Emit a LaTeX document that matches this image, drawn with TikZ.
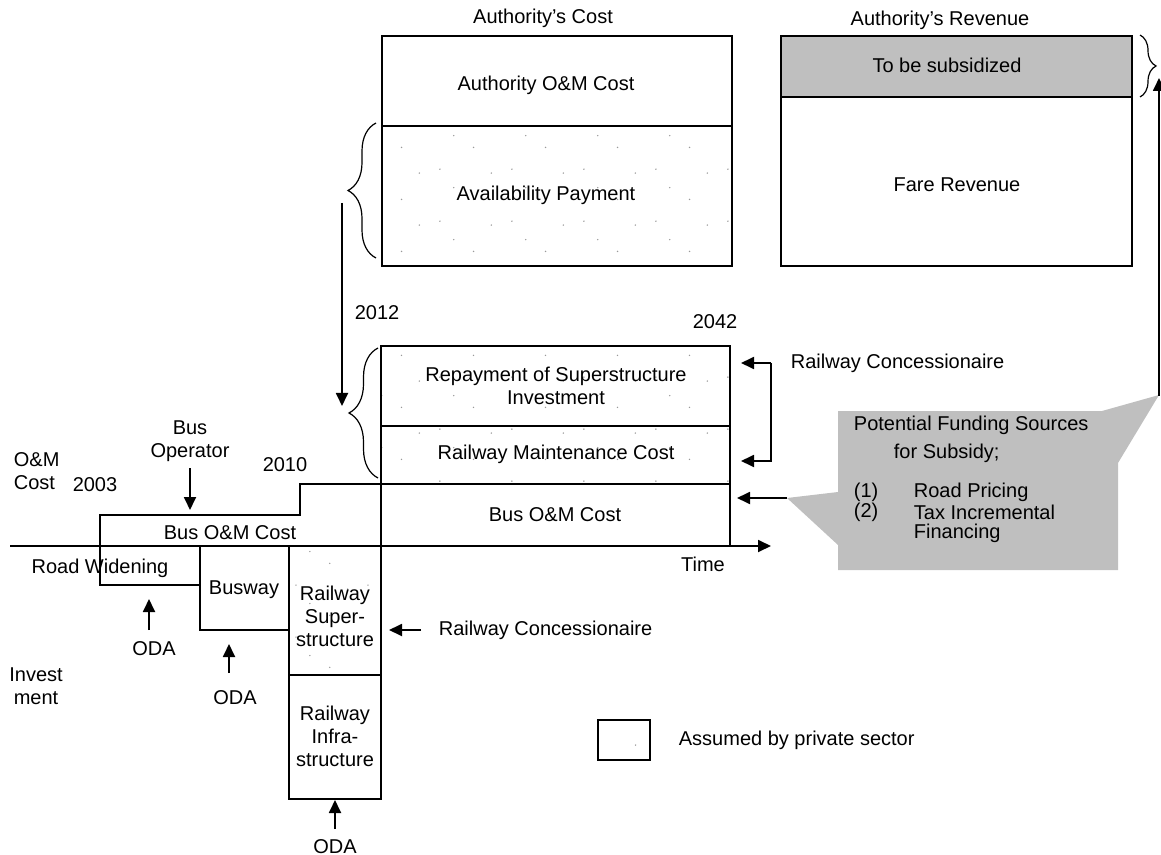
\documentclass[tikz,border=0pt]{standalone}
\usepackage{fontspec}
\setmainfont{Liberation Sans}
\usetikzlibrary{arrows.meta,decorations.pathreplacing,patterns}

% light, irregular dots marking the cost items carried by the private sector
\pgfdeclarepatternformonly{sparse dots}{\pgfqpoint{0pt}{0pt}}{\pgfqpoint{36pt}{26pt}}{\pgfqpoint{36pt}{26pt}}{%
  \pgfpathcircle{\pgfqpoint{4pt}{5pt}}{0.4pt}%
  \pgfpathcircle{\pgfqpoint{21pt}{16pt}}{0.4pt}%
  \pgfpathcircle{\pgfqpoint{30pt}{3pt}}{0.4pt}%
  \pgfpathcircle{\pgfqpoint{11pt}{22pt}}{0.4pt}%
  \pgfusepath{fill}}

\begin{document}
\begin{tikzpicture}[x=0.5pt,y=-0.5pt,
  font=\fontsize{10}{11.5}\selectfont,
  line width=0.9pt,
  lbl/.style={inner sep=0pt, align=center},
  lft/.style={inner sep=0pt, anchor=west, align=left},
  arr/.style={-{Triangle[length=6.5pt,width=6pt]}},
  priv/.style={pattern=sparse dots, pattern color=black!40},
  subs/.style={fill=black!25},
  brc/.style={decorate, decoration={brace, amplitude=#1}, line width=0.6pt},
]
\useasboundingbox (0,0) rectangle (1161,855);

% ---------- Authority's cost ----------
\node[lbl] (costT) at (543,18) {Authority's Cost};
\draw[priv] (382,126) rectangle (732,266);
\draw (382,36) rectangle (732,266);
\draw (382,126) -- (732,126);
\node[lbl] (aom) at (546,85) {Authority O\&M Cost};
\node[lbl] (avail) at (546,195) {Availability Payment};

% ---------- Authority's revenue ----------
\node[lbl] (revT) at (940,20) {Authority's Revenue};
\draw[subs] (781,36) rectangle (1132,97);
\draw (781,97) rectangle (1132,266);
\node[lbl] (subsid) at (947,65) {To be subsidized};
\node[lbl] (fare) at (957,185) {Fare Revenue};

% ---------- braces ----------
\draw[brc=14pt] (376,258) -- (376,123);
\draw[brc=14.5pt] (378,478) -- (378,348);
\draw[brc=8pt] (1140,35) -- (1140,97);

% ---------- O&M cost over time ----------
\draw[priv] (381,346) rectangle (730,484);
\draw (381,426) -- (730,426);
\node[lbl] (repay) at (556,386) {Repayment of Superstructure\\Investment};
\node[lbl] (rmaint) at (556,454) {Railway Maintenance Cost};

\draw (100,546) -- (100,515) -- (300,515) -- (300,484) -- (730,484) -- (730,546);
\draw (381,484) -- (381,799);
\node[lbl] (busom1) at (230,533) {Bus O\&M Cost};
\node[lbl] (busom2) at (555,515) {Bus O\&M Cost};

% ---------- investment ----------
\draw (100,546) -- (100,585) -- (200,585);
\draw (200,546) -- (200,630) -- (289,630);
\draw[priv] (289,546) rectangle (381,675);
\draw (289,546) rectangle (381,675);
\draw (289,675) rectangle (381,799);
\node[lbl] (roadw) at (100,568) {Road Widening};
\node[lbl] (busway) at (244,590) {Busway};
\node[lbl] (rsup) at (335,616) {Railway\\Super-\\structure};
\node[lbl] (rinf) at (335,736) {Railway\\Infra-\\structure};

% ---------- time axis ----------
\coordinate (axL) at (10,546);
\coordinate (axR) at (771,546);
\draw[arr] (axL) -- (axR);
\node[lbl] (time) at (703,564) {Time};

% ---------- axis and year labels ----------
\node[lft] (omc) at (13,471) {O\&M\\Cost};
\node[lbl] (inv) at (36,686) {Invest\\ment};
\node[lbl] (y2003) at (95,485) {2003};
\node[lbl] (y2010) at (285,465) {2010};
\node[lbl] (y2012) at (377,313) {2012};
\node[lbl] (y2042) at (715,322) {2042};

% ---------- actors ----------
\node[lbl] (busop) at (190,441) {Bus\\Operator};
\coordinate (busopA) at (190,468);
\coordinate (busopB) at (190,510);
\draw[arr] (busopA) -- (busopB);

\node[lbl] (oda1) at (154,649) {ODA};
\coordinate (oda1A) at (149,630);
\coordinate (oda1B) at (149,599);
\draw[arr] (oda1A) -- (oda1B);

\node[lbl] (oda2) at (235,698) {ODA};
\coordinate (oda2A) at (229,673);
\coordinate (oda2B) at (229,644);
\draw[arr] (oda2A) -- (oda2B);

\node[lbl] (oda3) at (335,847) {ODA};
\coordinate (oda3A) at (335,829);
\coordinate (oda3B) at (335,800);
\draw[arr] (oda3A) -- (oda3B);

\node[lft] (rcon1) at (438,630) {Railway Concessionaire};
\coordinate (rcon1A) at (421,630);
\coordinate (rcon1B) at (389,630);
\draw[arr] (rcon1A) -- (rcon1B);

\node[lft] (rcon2) at (790,363) {Railway Concessionaire};
\coordinate (rcon2A) at (771,363);
\coordinate (rcon2B) at (741,363);
\coordinate (rcon2C) at (771,461);
\coordinate (rcon2D) at (741,461);
\draw[arr] (rcon2A) -- (rcon2B);
\draw[arr] (rcon2A) -- (rcon2C) -- (rcon2D);

% ---------- availability payment flows down to the railway items ----------
\coordinate (apA) at (342,203);
\coordinate (apB) at (342,406);
\draw[arr] (apA) -- (apB);

% ---------- funding callout ----------
\fill[black!25] (838,411) -- (1102,411) -- (1159,395) -- (1118,463) -- (1118,570)
  -- (838,570) -- (838,545) -- (787,498) -- (838,492) -- cycle;
\node[lft] (fund1) at (853,425) {Potential Funding Sources};
\node[lft] (fund2) at (893,453) {for Subsidy;};
\node[lft] (n1) at (853,492) {(1)};
\node[lft] (f1) at (913,492) {Road Pricing};
\node[lft] (n2) at (853,512) {(2)};
\node[lft] (f2) at (913,512) {Tax Incremental};
\node[lft] (f3) at (913,533) {Financing};

\coordinate (cbA) at (787,498);
\coordinate (cbB) at (737,498);
\draw[arr] (cbA) -- (cbB);
\coordinate (cuA) at (1159,396);
\coordinate (cuB) at (1159,78);
\draw[arr] (cuA) -- (cuB);

% ---------- legend ----------
\draw[priv] (598,720) rectangle (650,760);
\draw (598,720) rectangle (650,760);
\node[lft] (leg) at (678,740) {Assumed by private sector};
\end{tikzpicture}
\end{document}
